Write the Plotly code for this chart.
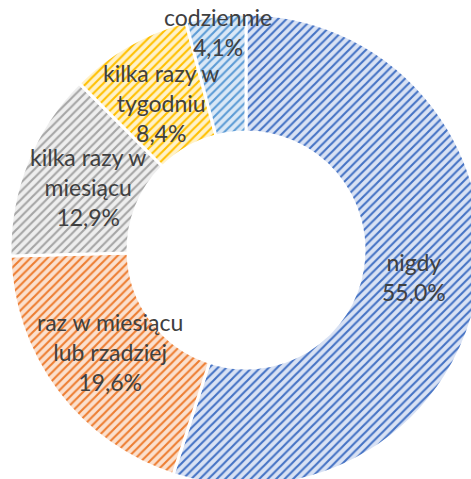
import math
import plotly.graph_objects as go

# ---- data ----
categories = ["nigdy", "raz w miesiącu<br>lub rzadziej", "kilka razy w<br>miesiącu",
              "kilka razy w<br>tygodniu", "codziennie"]
values = [55.0, 19.6, 12.9, 8.4, 4.1]
value_labels = ["55,0%", "19,6%", "12,9%", "8,4%", "4,1%"]

# ---- style ----
stripe_colors = ["#4472C4", "#ED7D31", "#A5A5A5", "#FFC000", "#5B9BD5"]
back_colors = ["#D9E2F4", "#FBE0CE", "#EEEEEE", "#FFF2C9", "#DAE8F6"]
text_color = "#404040"
font_family = "Lato"
font_size = 23

W, H = 482, 486
ML, MT, MR, MB = 10, 14, 0, 0
HOLE = 0.5
LABEL_R = 0.72        # fraction of outer radius for labels
SMALL_LABEL_R = 0.93  # for slices too thin to hold their label

fig = go.Figure(go.Pie(
    labels=categories,
    values=values,
    sort=False,
    direction="clockwise",
    rotation=0,
    hole=HOLE,
    textinfo="none",
    hoverinfo="label+percent",
    showlegend=False,
    marker=dict(
        colors=back_colors,
        line=dict(color="white", width=3),
        pattern=dict(shape="/", fgcolor=stripe_colors, bgcolor=back_colors,
                     size=6, solidity=0.35, fillmode="replace"),
    ),
    domain=dict(x=[0, 1], y=[0, 1]),
))

# label positions derived from the slice angles
plot_w = W - ML - MR
plot_h = H - MT - MB
R = min(plot_w, plot_h) / 2
cx, cy = plot_w / 2, plot_h / 2
total = sum(values)
cum = 0.0
annotations = []
for cat, v, vl in zip(categories, values, value_labels):
    frac = v / total
    mid = (cum + frac / 2) * 2 * math.pi
    cum += frac
    rr = R * (LABEL_R if frac >= 0.05 else SMALL_LABEL_R)
    px = cx + rr * math.sin(mid)
    py = cy - rr * math.cos(mid)
    annotations.append(dict(
        x=px / plot_w, y=1 - py / plot_h, xref="paper", yref="paper",
        text=f"{cat}<br>{vl}", showarrow=False,
        font=dict(family=font_family, size=font_size, color=text_color),
        xanchor="center", yanchor="middle", align="center",
    ))

fig.update_layout(
    width=W, height=H, autosize=False,
    margin=dict(l=ML, t=MT, r=MR, b=MB, pad=0),
    paper_bgcolor="white", plot_bgcolor="white",
    annotations=annotations,
)

fig.write_html(
    "out.html",
    config={"displayModeBar": False},
    post_script="document.body.style.margin='0';document.body.style.overflow='hidden';"
                "document.documentElement.style.overflow='hidden';",
)
